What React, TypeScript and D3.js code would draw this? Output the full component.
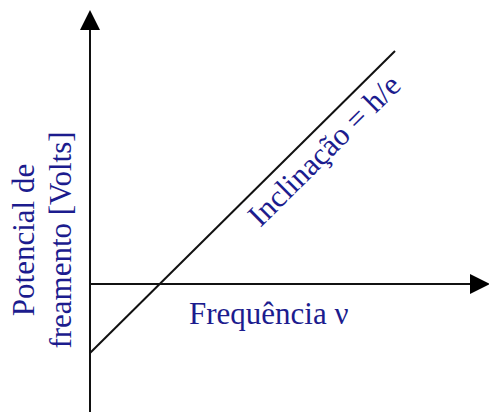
import React from "react";
import * as d3 from "d3";

// Stopping potential vs. light frequency (photoelectric effect)
const frequencies = [0, 3.05];
const potentials = [-0.69, 2.33];
const xDomain = [0, 4];
const yDomain = [-1.28, 2.74];
const xAxisLabel = "Frequência ν";
const yAxisLabel = ["Potencial de", "freamento [Volts]"];
const slopeLabel = "Inclinação = h/e";

const W = 489;
const H = 412;
const TEXT = "#1c1c8e";
const FONT = "'Liberation Serif', 'Times New Roman', serif";

export default function App() {
  const x = d3.scaleLinear().domain(xDomain).range([90, 490]);
  const y = d3.scaleLinear().domain(yDomain).range([412, 10]);

  const x0 = x(0);
  const y0 = y(0);
  const xMax = x(xDomain[1]);
  const yMax = y(yDomain[1]);
  const yMin = y(yDomain[0]);

  const pts: [number, number][] = frequencies.map((f, i) => [x(f), y(potentials[i])]);
  const line = d3.line()(pts) ?? "";

  const [p0, p1] = pts;
  const angle = (Math.atan2(p1[1] - p0[1], p1[0] - p0[0]) * 180) / Math.PI;
  // label anchor: along the line, offset below it
  const t = 0.72;
  const mx = p0[0] + (p1[0] - p0[0]) * t;
  const my = p0[1] + (p1[1] - p0[1]) * t;
  const len = Math.hypot(p1[0] - p0[0], p1[1] - p0[1]);
  const nx = -(p1[1] - p0[1]) / len;
  const ny = (p1[0] - p0[0]) / len;
  const off = -31;
  const lx = mx - nx * off;
  const ly = my - ny * off;

  const ah = 20;
  const aw = 10;

  return (
    <svg
      width={W}
      height={H}
      style={{ position: "absolute", left: 0, top: 0, background: "#fff" }}
      fontFamily={FONT}
    >
      {/* axes */}
      <line x1={x0} y1={yMin} x2={x0} y2={yMax + ah} stroke="#111" strokeWidth={2} />
      <path d={`M${x0},${yMax} L${x0 - aw},${yMax + ah} L${x0 + aw},${yMax + ah} Z`} fill="#000" />
      <line x1={x0} y1={y0} x2={xMax - ah} y2={y0} stroke="#111" strokeWidth={2} />
      <path d={`M${xMax},${y0} L${xMax - ah},${y0 - aw} L${xMax - ah},${y0 + aw} Z`} fill="#000" />

      {/* stopping potential line */}
      <path d={line} fill="none" stroke="#111" strokeWidth={2} />

      {/* labels */}
      <text
        x={lx}
        y={ly}
        fill={TEXT}
        fontSize={31}
        textAnchor="middle"
        transform={`rotate(${angle} ${lx} ${ly})`}
      >
        {slopeLabel}
      </text>
      <text x={189} y={324} fill={TEXT} fontSize={31}>
        {xAxisLabel}
      </text>
      <text fill={TEXT} fontSize={31} textAnchor="middle" transform="translate(34 240) rotate(-90)">
        <tspan x={0} y={0}>{yAxisLabel[0]}</tspan>
        <tspan x={0} y={37}>{yAxisLabel[1]}</tspan>
      </text>
    </svg>
  );
}
